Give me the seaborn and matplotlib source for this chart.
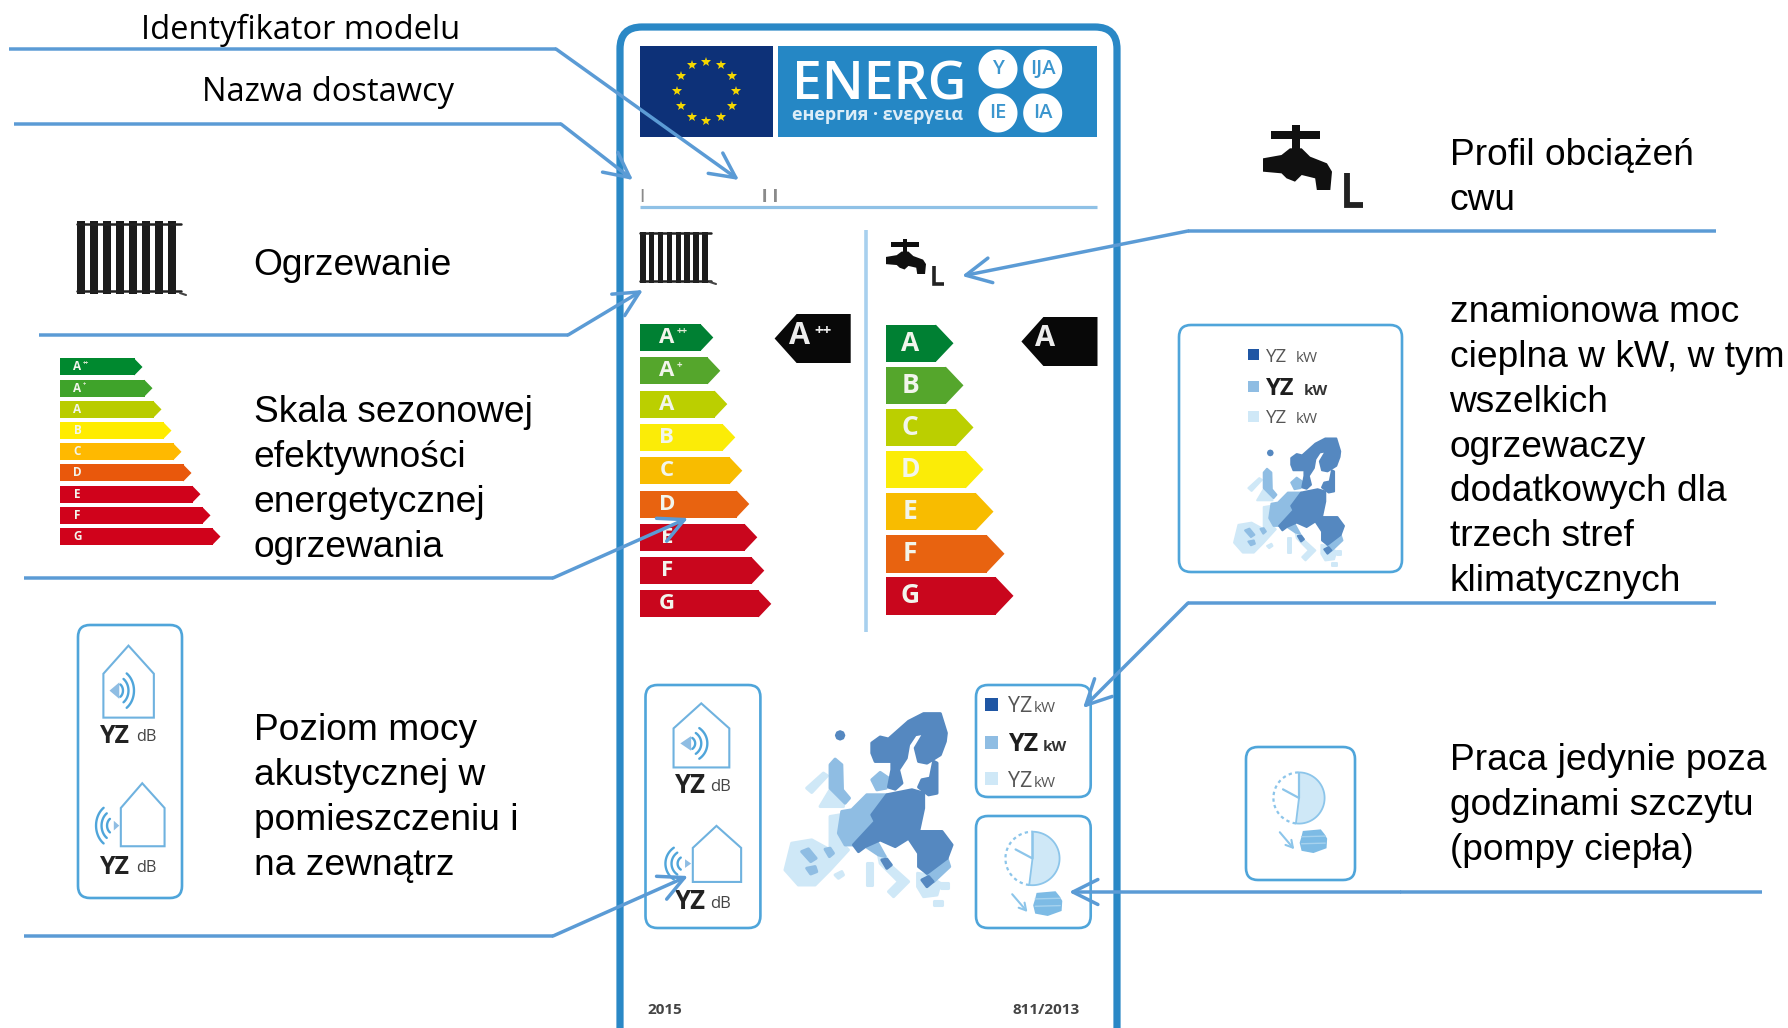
import numpy as np
import pandas as pd
import matplotlib
matplotlib.use("Agg")
import matplotlib.pyplot as plt
from matplotlib.patches import Polygon, Rectangle, FancyBboxPatch
import seaborn as sns

# ---------- chart content ----------
heating_classes = ["A++", "A+", "A", "B", "C", "D", "E", "F", "G"]
heating_lengths = [61, 68, 75, 83, 90, 97, 105, 112, 119]
water_classes = ["A", "B", "C", "D", "E", "F", "G"]
water_lengths = [50, 60, 70, 80, 90, 101, 110]
legend_lengths = [75, 85, 94, 104, 114, 124, 133, 143, 153]

heating_colors = ["#008033", "#55A62C", "#BBCF00", "#FBEC07", "#F8BC00", "#E86310", "#C9061D", "#C9061D", "#C9061D"]
water_colors = ["#008033", "#55A62C", "#BBCF00", "#FBEC07", "#F8BC00", "#E86310", "#C9061D"]
legend_colors = ["#00892F", "#3FA32A", "#B9CC00", "#FFEC00", "#FFB900", "#E9580C", "#D0021B", "#D0021B", "#D0021B"]

left_labels = [("Ogrzewanie", 275), ("Skala sezonowej", 422), ("efektywności", 467), ("energetycznej", 512),
               ("ogrzewania", 557), ("Poziom mocy", 740), ("akustycznej w", 785), ("pomieszczeniu i", 830),
               ("na zewnątrz", 875)]
right_labels = [("Profil obciążeń", 165), ("cwu", 210), ("znamionowa moc", 322), ("cieplna w kW, w tym", 367),
                ("wszelkich", 412), ("ogrzewaczy", 457), ("dodatkowych dla", 501), ("trzech stref", 546),
                ("klimatycznych", 591), ("Praca jedynie poza", 770), ("godzinami szczytu", 815), ("(pompy ciepła)", 860)]
top_labels = [("Identyfikator modelu", 141, 39), ("Nazwa dostawcy", 202, 101)]

W, H = 1788, 1028
sns.set_theme(style="white")
plt.rcParams["font.family"] = ["Liberation Sans", "DejaVu Sans"]
fig = plt.figure(figsize=(W / 100, H / 100), dpi=100, facecolor="white")


def px_axes(x0, y0, x1, y1, z=1):
    a = fig.add_axes([x0 / W, 1 - y1 / H, (x1 - x0) / W, (y1 - y0) / H], zorder=z)
    a.set_axis_off()
    return a


main = px_axes(0, 0, W, H, z=5)
main.set_xlim(0, W)
main.set_ylim(H, 0)
under = px_axes(0, 0, W, H, z=0)
under.set_xlim(0, W)
under.set_ylim(H, 0)

SANS = "Open Sans"
BLUE = "#5B9BD5"
FRAME = "#2A88C6"
BOX = "#4FA5DA"
PALE = "#CFE8F7"
MID = "#8FBDE3"
DARK = "#5588C0"


def scale_chart(x, y, step, h, tip, classes, lengths, colors, fs, label_x, sup_fs=None):
    n = len(classes)
    top = y - (step - h) / 2
    a = px_axes(x, top, x + 220, top + n * step, z=1)
    df = pd.DataFrame({"klasa": classes, "dlugosc": lengths})
    sns.barplot(data=df, x="dlugosc", y="klasa", hue="klasa", order=classes, hue_order=classes,
                palette=dict(zip(classes, colors)), legend=False, width=h / step, saturation=1,
                orient="h", ax=a, linewidth=0)
    a.set_xlim(0, 220)
    a.set_ylim(n - 0.5, -0.5)
    a.set_axis_off()
    for i, (c, l, col) in enumerate(zip(classes, lengths, colors)):
        half = (h / step) / 2
        a.add_patch(Polygon([(l - 0.3, i - half), (l + tip, i), (l - 0.3, i + half)], closed=True, fc=col, ec="none"))
        a.text(label_x, i, c[0], color="#F2F5EC", fontsize=fs, fontweight="bold", family=SANS, ha="center", va="center")
        if len(c) > 1 and sup_fs:
            a.text(label_x + fs * 0.62, i - 0.17, c[1:], color="#E4ECD8", fontsize=sup_fs, fontweight="bold",
                   family=SANS, ha="left", va="center")


scale_chart(639.8, 324, 33.3, 27, 12.5, heating_classes, heating_lengths, heating_colors, 16, 27, 7)
scale_chart(886, 324.5, 42.1, 37.5, 17.5, water_classes, water_lengths, water_colors, 19, 24)
scale_chart(59.5, 358.5, 21.2, 17, 8, heating_classes, legend_lengths, legend_colors, 8.5, 18, 4)

# ---------- frame and header ----------
under.add_patch(FancyBboxPatch((642, 49), 453, 1100, boxstyle="round,pad=22,rounding_size=22",
                               fc="white", ec=FRAME, lw=5.2, clip_on=True))
under.add_patch(Rectangle((639.7, 46), 133.5, 91, fc="#0D3178", ec="none"))
under.add_patch(Rectangle((778, 46), 319, 91, fc="#2587C5", ec="none"))
for ang in np.arange(0, 360, 30):
    main.plot(706.3 + 29.5 * np.sin(np.radians(ang)), 91 - 29.5 * np.cos(np.radians(ang)), marker="*", ms=7.5,
              color="#F5D800", mew=0)
main.text(792, 99, "ENERG", color="white", fontsize=38.5, family=SANS, fontweight="semibold", ha="left", va="baseline")
main.text(791.5, 120, "енергия · ενεργεια", color="#DCEDF8", fontsize=13, family=SANS, fontweight="bold",
          ha="left", va="baseline")
for cx, cy, t in [(998, 69, "Y"), (1042.7, 69, "IJA"), (998, 113, "IE"), (1042.7, 113, "IA")]:
    th = np.linspace(0, 2 * np.pi, 80)
    main.fill(cx + 19.5 * np.cos(th), cy + 19.5 * np.sin(th), color="white", lw=0)
    main.text(cx, cy, t, color="#3C96CE", fontsize=14.5, family=SANS, fontweight="semibold", ha="center", va="center")
main.text(642, 202, "I", color="#8A8A8A", fontsize=14, family="Liberation Sans", ha="center", va="baseline")
main.text(770, 202, "I I", color="#8A8A8A", fontsize=14, family="Liberation Sans", ha="center", va="baseline", fontweight="bold")
under.plot([640, 1097], [206.7, 206.7], color="#8FC1E6", lw=2.3, solid_capstyle="butt")
under.plot([866, 866], [230, 632], color="#A8D0EE", lw=2.6, solid_capstyle="butt")


# ---------- icons ----------
def mapper(src, dst):
    sx0, sy0, sx1, sy1 = src
    dx0, dy0, dx1, dy1 = dst

    def T(pts):
        p = np.asarray(pts, float)
        return np.column_stack([dx0 + (p[:, 0] - sx0) * (dx1 - dx0) / (sx1 - sx0),
                                dy0 + (p[:, 1] - sy0) * (dy1 - dy0) / (sy1 - sy0)])
    return T


def radiator(x0, y0, x1, y1, n=8):
    step = (x1 - x0 - 5) / n
    for i in range(n):
        main.add_patch(Rectangle((x0 + i * step, y0 + 2), step * 0.62, y1 - y0 - 4, fc="#1C1C1C", ec="none"))
    for yy in (y0 + (y1 - y0) * 0.06, y0 + (y1 - y0) * 0.93):
        main.plot([x0, x1 - 5], [yy, yy], color="#222222", lw=1.8)
    main.plot([x1 - 6, x1], [y1 - 3, y1 - 1], color="#444444", lw=1.5)


def tap(x0, y0, x1, y1, lx0, ly0, lx1, ly1, lw):
    T = mapper((70, 45, 275, 240), (x0, y0, x1, y1))
    body = [(70, 145), (125, 135), (150, 115), (185, 115), (210, 140), (260, 160), (275, 185), (270, 240),
            (230, 240), (225, 205), (185, 195), (165, 215), (140, 205), (125, 190), (70, 185)]
    main.add_patch(Polygon(T(body), closed=True, fc="#101010", ec="none"))
    for part in ([(95, 62), (240, 62), (240, 88), (95, 88)], [(156, 45), (180, 45), (180, 125), (156, 125)]):
        main.add_patch(Polygon(T(part), closed=True, fc="#101010", ec="none"))
    main.plot([lx0, lx0, lx1], [ly0, ly1, ly1], color="#222222", lw=lw, solid_joinstyle="miter", solid_capstyle="butt")


def rbox(x0, y0, x1, y1, r=12, lw=1.9):
    main.add_patch(FancyBboxPatch((x0 + r, y0 + r), x1 - x0 - 2 * r, y1 - y0 - 2 * r,
                                  boxstyle=f"round,pad={r},rounding_size={r}", fc="white", ec=BOX, lw=lw))


def arc(T, cx, cy, r, a0, a1, **kw):
    th = np.radians(np.linspace(a0, a1, 30))
    p = T(np.column_stack([cx + r * np.cos(th), cy + r * np.sin(th)]))
    main.plot(p[:, 0], p[:, 1], **kw)


def noise(box, k=1.0, yz_dx=0, yz_dy=0):
    T = mapper((105, 75, 445, 803), box)
    rbox(*box)
    for h in ([(188, 205), (270, 130), (353, 205), (353, 322), (188, 322)],
              [(245, 563), (315, 497), (388, 563), (388, 665), (245, 665)]):
        main.add_patch(Polygon(T(h), closed=True, fc="white", ec="#6FB2DF", lw=1.5))
    main.add_patch(Polygon(T([(208, 250), (240, 228), (240, 272)]), closed=True, fc=MID, ec="none"))
    for r in (20, 38, 56):
        arc(T, 232, 250, r, -55, 55, color="#4FA5DA", lw=1.7)
    main.add_patch(Polygon(T([(240, 610), (222, 597), (222, 623)]), closed=True, fc=MID, ec="none"))
    for r in (22, 40, 58):
        arc(T, 222, 610, r, 125, 235, color="#4FA5DA", lw=1.7)
    for yy in (398, 747):
        a, b = T([(192, yy)])[0], T([(295, yy - 5)])[0]
        main.text(a[0] + yz_dx, a[1] + yz_dy, "YZ", fontsize=18.5 * k, fontweight="bold", family=SANS, color="#222222", va="baseline")
        main.text(b[0], b[1] + yz_dy, "dB", fontsize=12 * k, family=SANS, color="#444444", va="baseline")


def clock(box, content):
    T = mapper((1083, 468, 1422, 803), content)
    rbox(*box)
    th = np.radians(np.linspace(-90, 97, 50))
    pts = np.vstack([[(1250, 595)], np.column_stack([1250 + 80 * np.cos(th), 595 + 80 * np.sin(th)]), [(1250, 595)]])
    main.add_patch(Polygon(T(pts), closed=True, fc=PALE, ec="#8CC5EA", lw=1.3))
    arc(T, 1250, 595, 80, 97, 270, color="#8CC5EA", lw=1.6, ls=(0, (1.5, 1.5)))
    hand = T([(1250, 520), (1250, 595), (1200, 568)])
    main.plot(hand[:, 0], hand[:, 1], color="#8CC5EA", lw=1.6)
    a = T([(1190, 702), (1235, 755)])
    main.annotate("", xy=a[1], xytext=a[0], arrowprops=dict(arrowstyle="->,head_length=0.35,head_width=0.2",
                                                             color="#8CC5EA", lw=1.5, shrinkA=0, shrinkB=0, mutation_scale=14))
    main.add_patch(Polygon(T([(1262, 698), (1318, 693), (1330, 708), (1338, 722), (1336, 752), (1295, 767), (1258, 760),
                              (1252, 735), (1258, 715)]), closed=True, fc="#7DBBE5", ec="none"))
    for yy in (716, 738):
        s = T([(1258, yy), (1332, yy - 2)])
        main.plot(s[:, 0], s[:, 1], color="#A6D2EE", lw=1)


def europe(T, edge):
    th = np.radians(np.arange(0, 360, 45))
    iceland = np.column_stack([180 + 11 * np.cos(th), 107 + 11 * np.sin(th)])
    polys = [
        (PALE, [(150, 350), (180, 345), (175, 400), (195, 440), (205, 450), (150, 510), (105, 555), (55, 555),
                (15, 510), (35, 430), (95, 420), (150, 450), (150, 400)]),
        (PALE, [(80, 265), (130, 220), (142, 228), (95, 278)]),
        (PALE, [(120, 320), (150, 270), (190, 305), (190, 320)]),
        (PALE, [(315, 470), (335, 500), (385, 545), (340, 590), (325, 575), (355, 545), (300, 490), (295, 465)]),
        (PALE, [(165, 525), (185, 515), (190, 525), (175, 535)]),
        (PALE, [(260, 490), (275, 490), (275, 555), (260, 555)]),
        (PALE, [(412, 520), (440, 525), (480, 550), (470, 585), (430, 590), (412, 560)]),
        (PALE, [(483, 548), (503, 548), (503, 565), (483, 565)]),
        (PALE, [(460, 603), (485, 603), (485, 615), (460, 615)]),
        (MID, [(150, 195), (165, 178), (185, 195), (187, 270), (208, 295), (195, 310), (150, 265)]),
        (MID, [(185, 335), (215, 330), (260, 285), (320, 285), (275, 345), (285, 365), (220, 435), (195, 435), (175, 400)]),
        (MID, [(275, 240), (300, 218), (325, 235), (318, 265), (290, 270)]),
        (MID, [(250, 435), (290, 425), (315, 470), (295, 465)]),
        (MID, [(65, 455), (85, 447), (108, 475), (92, 485)]),
        (MID, [(80, 505), (105, 500), (110, 515), (92, 522)]),
        (MID, [(135, 448), (150, 445), (160, 460), (148, 470)]),
        (MID, [(440, 520), (500, 475), (508, 500), (460, 545)]),
        (DARK, [(275, 130), (300, 112), (325, 118), (385, 65), (430, 42), (480, 42), (498, 100), (495, 125), (480, 165),
                (440, 190), (415, 185), (405, 145), (432, 100), (405, 105), (385, 135), (378, 175), (355, 210),
                (365, 250), (345, 268), (325, 262), (335, 210), (335, 185), (285, 185), (275, 160)]),
        (DARK, [(460, 185), (470, 190), (470, 280), (445, 285), (415, 262), (425, 240), (450, 235)]),
        (DARK, [(320, 285), (395, 270), (430, 280), (430, 325), (415, 395), (485, 395), (515, 435), (500, 475),
                (440, 520), (415, 500), (415, 460), (385, 415), (345, 440), (300, 420), (255, 440), (235, 455),
                (220, 435), (285, 365), (275, 345)]),
        (DARK, [(305, 480), (320, 478), (333, 495), (320, 505)]),
        (DARK, [(425, 540), (445, 530), (458, 545), (440, 560)]),
        (DARK, iceland),
    ]
    for col, p in polys:
        main.add_patch(Polygon(T(p), closed=True, fc=col, ec=col, lw=edge, joinstyle="round"))


def legend_box(sq_x, sq_w, tx, kx, kx2, rows, fs, fs_bold, kfs):
    cols = ["#1F56A4", MID, PALE]
    for i, (sy, base) in enumerate(rows):
        main.add_patch(Rectangle((sq_x, sy), sq_w, sq_w, fc=cols[i], ec="none"))
        bold = i == 1
        main.text(tx, base, "YZ", fontsize=fs_bold if bold else fs, fontweight="bold" if bold else "normal",
                  family=SANS, color="#1E1E1E" if bold else "#555555", va="baseline")
        main.text(kx2 if bold else kx, base, "kW", fontsize=kfs, fontweight="bold" if bold else "normal",
                  family=SANS, color="#333333" if bold else "#555555", va="baseline")


radiator(640, 230, 716, 285)
radiator(77, 219, 186, 296)
tap(886, 239, 926, 274, 934, 266, 944, 284, 2.6)
tap(1263, 125, 1332, 190, 1347, 173, 1363, 205, 4.2)

# black class tags
for x0, x1, y0, y1, t, fs in [(774.6, 850.7, 314, 363, "A", 22), (1021.4, 1097.5, 317, 366, "A", 21)]:
    mid = (y0 + y1) / 2
    main.add_patch(Polygon([(x0, mid), (x0 + 22, y0), (x1, y0), (x1, y1), (x0 + 22, y1)], closed=True, fc="#080808", ec="none"))
    main.text(x0 + 14, mid - 3, t, color="#EDEDED", fontsize=fs, fontweight="bold", family=SANS, ha="left", va="center")
main.text(814, 331, "++", color="#EDEDED", fontsize=11, fontweight="bold", family=SANS, ha="left", va="center")

noise((645.5, 685, 760.4, 928))
noise((78, 625, 182, 898), 0.97, yz_dx=-6, yz_dy=-3)
clock((976, 816, 1090.7, 928), (976, 816, 1090.7, 928))
k = 0.32
clock((1246, 747, 1355, 880),
      (1299 + (1083 - 1250) * k, 798 + (468 - 595) * k, 1299 + (1422 - 1250) * k, 798 + (803 - 595) * k))

rbox(976, 685, 1090.7, 797)
legend_box(985, 12.5, 1008, 1034, 1042.7, [(698, 712), (736, 751), (772, 787)], 15.5, 18, 11)
rbox(1179, 325, 1402, 572)
legend_box(1248, 11, 1266, 1296, 1304, [(349, 362), (381, 395), (411, 423)], 13.5, 17, 11)
europe(mapper((15, 40, 515, 615), (785, 713, 952, 905)), 2.2)
europe(mapper((15, 40, 515, 615), (1234, 438, 1344, 566)), 1.4)

main.text(647.5, 1014, "2015", fontsize=11, fontweight="bold", family=SANS, color="#444444", va="baseline")
main.text(1080, 1014, "811/2013", fontsize=11, fontweight="bold", family=SANS, color="#444444", ha="right", va="baseline")

# ---------- callout lines ----------
callouts = [
    ((9, 49), (556, 49), (739, 180)),
    ((14, 124), (561, 124), (633, 180)),
    ((39, 335), (568, 335), (643, 290)),
    ((24, 578), (553, 578), (688, 518)),
    ((24, 936), (553, 936), (688, 876)),
    ((1716, 231), (1188, 231), (962, 276)),
    ((1716, 603), (1188, 603), (1083, 708)),
    ((1762, 892), (1400, 892), (1069, 892)),
]
for a, b, c in callouts:
    main.plot([a[0], b[0]], [a[1], b[1]], color=BLUE, lw=2.5, solid_capstyle="butt", zorder=20, snap=False)
    main.annotate("", xy=c, xytext=b, zorder=20,
                  arrowprops=dict(arrowstyle="->,head_length=0.9,head_width=0.45", color=BLUE, lw=2.5,
                                  shrinkA=0, shrinkB=0, mutation_scale=20, snap=False))

# ---------- captions ----------
for t, y in left_labels:
    main.text(253.5, y, t, fontsize=26.7, color="black", va="baseline", ha="left")
for t, y in right_labels:
    main.text(1449.5, y, t, fontsize=26.7, color="black", va="baseline", ha="left")
for t, x, y in top_labels:
    main.text(x, y, t, fontsize=23.5, family=SANS, color="black", va="baseline", ha="left")

fig.savefig("out.png", dpi=100, facecolor="white")
